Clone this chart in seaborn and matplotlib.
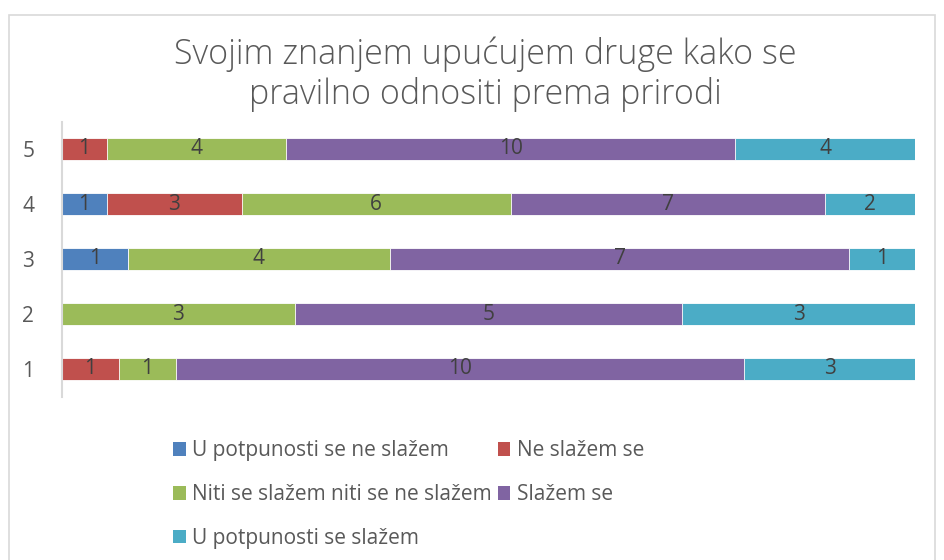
import matplotlib
matplotlib.use("Agg")
import matplotlib.pyplot as plt
from matplotlib.patches import Rectangle, Patch
import seaborn as sns
import pandas as pd
import numpy as np

categories = ["1", "2", "3", "4", "5"]
series_names = ["U potpunosti se ne slažem", "Ne slažem se",
                "Niti se slažem niti se ne slažem", "Slažem se",
                "U potpunosti se slažem"]
u_potpunosti_ne = [0, 0, 1, 1, 0]
ne_slazem = [1, 0, 0, 3, 1]
niti_niti = [1, 3, 4, 6, 4]
slazem = [10, 5, 7, 7, 10]
u_potpunosti_da = [3, 3, 1, 2, 4]
colors = ["#4F81BD", "#C0504D", "#9BBB59", "#8064A2", "#4BACC6"]
title = "Svojim znanjem upućujem druge kako se\npravilno odnositi prema prirodi"

sns.set_theme(style="white")
plt.rcParams["font.family"] = ["Open Sans", "DejaVu Sans"]

series = [u_potpunosti_ne, ne_slazem, niti_niti, slazem, u_potpunosti_da]
vals = np.array(series, dtype=float)  # shape (5 series, 5 cats)
totals = vals.sum(axis=0)
pct = vals / totals
cum = np.cumsum(pct, axis=0)
starts = cum - pct

fig = plt.figure(figsize=(9.45, 5.6), dpi=100)
ax = fig.add_axes([62/945, 1 - 396.5/560, (915-62)/945, 275/560])

order = ["5", "4", "3", "2", "1"]
for i in range(len(series) - 1, -1, -1):
    df = pd.DataFrame({"cat": categories, "val": cum[i]})
    sns.barplot(data=df, x="val", y="cat", order=order, color=colors[i],
                width=0.4, edgecolor="white", linewidth=0.6, ax=ax,
                saturation=1)

# data labels
for i in range(len(series)):
    for j, c in enumerate(categories):
        if vals[i, j] > 0:
            ypos = order.index(c)
            ax.text(starts[i, j] + pct[i, j] / 2, ypos, str(int(vals[i, j])),
                    ha="center", va="center", fontsize=15, color="#404040")

ax.set_xlim(0, 1)
ax.set_ylim(4.5, -0.5)
ax.set_xlabel("")
ax.set_ylabel("")
ax.set_xticks([])
for s in ["top", "right", "bottom"]:
    ax.spines[s].set_visible(False)
ax.spines["left"].set_color("#D9D9D9")
ax.spines["left"].set_linewidth(1.5)
ax.tick_params(axis="y", length=0, pad=20, labelsize=15, labelcolor="#595959")

fig.text(485/945, 1 - 74/560, title, ha="center", va="center",
         fontsize=24.5, color="#595959", linespacing=1.2, fontweight="light")

handles = [Patch(facecolor=colors[k], edgecolor="none") for k in range(5)]
idx = [0, 2, 4, 1, 3]
fig.legend([handles[k] for k in idx], [series_names[k] for k in idx],
           ncol=2, loc="upper left", bbox_to_anchor=(165/945, 1 - 432/560),
           frameon=False, fontsize=15, labelcolor="#595959",
           handlelength=0.6, handleheight=0.6, handletextpad=0.3,
           columnspacing=0.3, labelspacing=1.1, borderaxespad=0)

fig.patches.append(Rectangle((9/945, -0.1), (935-9)/945, 1.1 - 15/560,
                             transform=fig.transFigure, fill=False,
                             edgecolor="#D9D9D9", linewidth=1.2))

fig.savefig("out.png", dpi=100)
